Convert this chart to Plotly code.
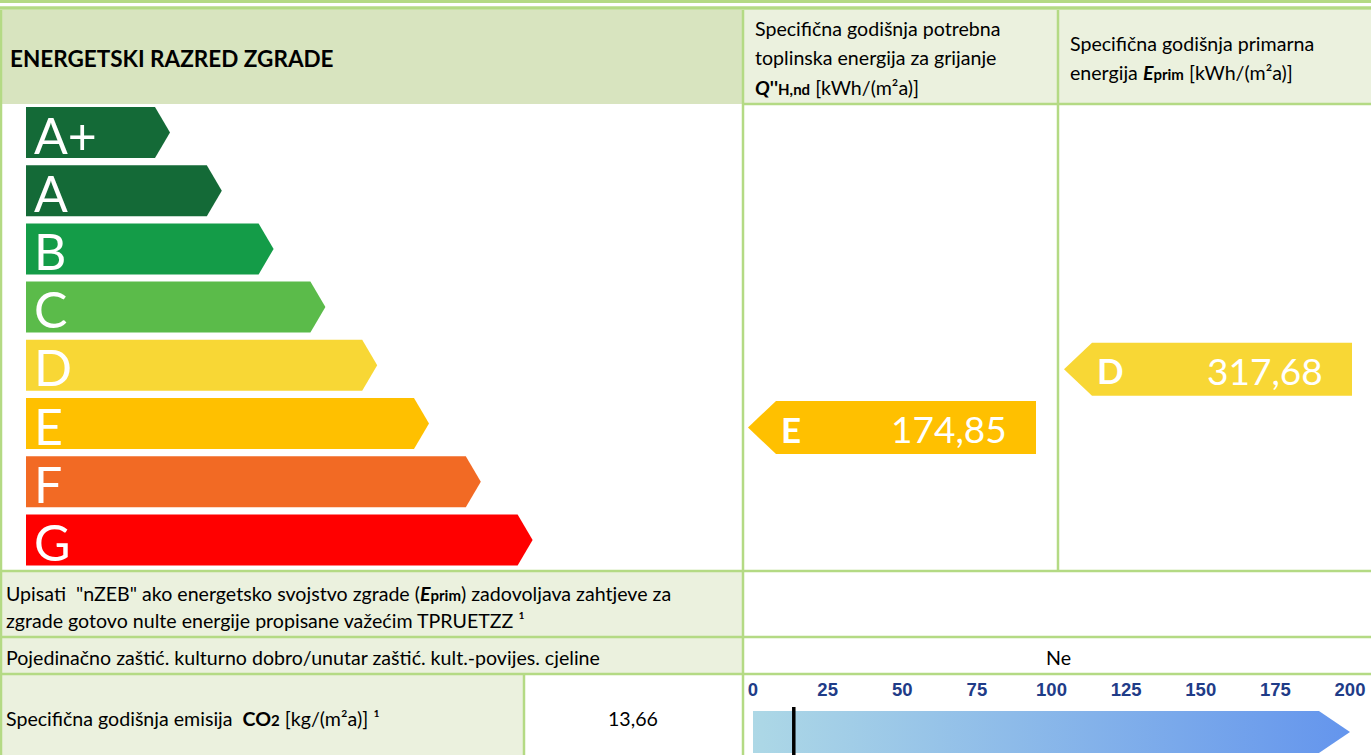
import plotly.graph_objects as go

# ---------------- data ----------------
classes = ["A+", "A", "B", "C", "D", "E", "F", "G"]
class_colors = ["#146A37", "#146A37", "#149C48", "#5BBB4A", "#F8D735", "#FFC000", "#F26A24", "#FF0000"]

heat_class = "E"
heat_value = 174.85
prim_class = "D"
prim_value = 317.68

co2_value = 13.66
co2_ticks = [0, 25, 50, 75, 100, 125, 150, 175, 200]
co2_range = [0, 200]

protected_answer = "Ne"
nzeb_answer = ""

# ---------------- style / layout constants ----------------
W, H = 1371, 755
BC = "#B4DA84"          # border green
HDR_DARK = "#D8E4BF"
HDR_LIGHT = "#EBF1DE"
FONT = "Lato, 'Open Sans', sans-serif"
TXT = 19.6

COL1, COL2 = 742, 1058
HDR_TOP, HDR_BOT = 10, 104
ROW1, ROW2, ROW3 = 571, 637, 674
CO2_SPLIT = 524
SCALE_H = 52

BAR_X0 = 26
BAR_W0 = 129
BAR_STEP = 51.8
BAR_TIP = 15
ROW_Y0 = 107
ROW_STEP = 58.2
BAR_H = 51

def fmt(v):
    return f"{v:.2f}".replace(".", ",")

fig = go.Figure()
shapes = []

def rect(x0, y0, x1, y1, color):
    shapes.append(dict(type="rect", xref="x", yref="y", x0=x0, y0=y0, x1=x1, y1=y1,
                       fillcolor=color, line=dict(width=0), layer="below"))

def hline(y, x0, x1, w=2.5):
    shapes.append(dict(type="line", xref="x", yref="y", x0=x0, x1=x1, y0=y, y1=y,
                       line=dict(color=BC, width=w), layer="above"))

def vline(x, y0, y1, w=2.5):
    shapes.append(dict(type="line", xref="x", yref="y", x0=x, x1=x, y0=y0, y1=y1,
                       line=dict(color=BC, width=w), layer="above"))

# backgrounds
rect(0, HDR_TOP, COL1, HDR_BOT, HDR_DARK)
rect(COL1, HDR_TOP, W, HDR_BOT, HDR_LIGHT)
rect(0, ROW1, COL1, ROW2, HDR_LIGHT)
rect(0, ROW2, COL1, ROW3, HDR_LIGHT)
rect(0, ROW3, CO2_SPLIT, H, HDR_LIGHT)

# borders
hline(1.5, 0, W, 3)
hline(8, 0, W, 3.5)
hline(HDR_BOT, COL1, W, 2.5)
hline(ROW1, 0, W)
hline(ROW2, 0, W)
hline(ROW3, 0, W)
vline(1, HDR_TOP, H, 2.5)
vline(COL1 + 1, HDR_TOP, H)
vline(COL2, HDR_TOP, ROW1)
vline(CO2_SPLIT, ROW3, H)

annotations = []

def text(x, y, s, size, xanchor="left", color="#000000", bold=False, font=FONT, weight=None):
    f = dict(family=font, size=size, color=color)
    if weight is not None:
        f["weight"] = weight
    annotations.append(dict(xref="x", yref="y", x=x, y=y, text=(f"<b>{s}</b>" if bold else s),
                            showarrow=False, xanchor=xanchor, yanchor="middle", font=f))

# ---------------- class ladder ----------------
for i, (c, col) in enumerate(zip(classes, class_colors)):
    top = ROW_Y0 + ROW_STEP * i
    w = BAR_W0 + BAR_STEP * i
    xs = [BAR_X0, BAR_X0 + w, BAR_X0 + w + BAR_TIP, BAR_X0 + w, BAR_X0, BAR_X0]
    ys = [top, top, top + BAR_H / 2, top + BAR_H, top + BAR_H, top]
    fig.add_trace(go.Scatter(x=xs, y=ys, fill="toself", fillcolor=col, mode="lines",
                             line=dict(width=0, color=col), hoverinfo="skip", showlegend=False))
    text(BAR_X0 + 6, top + BAR_H / 2 + 2, c, 50, color="#FFFFFF", weight=400)

# ---------------- indicators ----------------
def indicator(col_left, cls, value):
    i = classes.index(cls)
    col = class_colors[i]
    top = ROW_Y0 + ROW_STEP * i + 3
    h = 53
    tip = col_left + 6
    start = col_left + 34
    end = col_left + 294
    xs = [tip, start, end, end, start, tip]
    ys = [top + h / 2, top, top, top + h, top + h, top + h / 2]
    fig.add_trace(go.Scatter(x=xs, y=ys, fill="toself", fillcolor=col, mode="lines",
                             line=dict(width=0, color=col), hoverinfo="skip", showlegend=False))
    text(start + 3, top + h / 2 + 1, cls, 35, color="#FFFFFF", bold=True)
    text(end - 27, top + h / 2 + 1, fmt(value), 37, xanchor="right", color="#FFFFFF")

indicator(COL1, heat_class, heat_value)
indicator(COL2, prim_class, prim_value)

# ---------------- header texts ----------------
SUB = "font-size:15px"
text(8, 58, "ENERGETSKI RAZRED ZGRADE", 22.5, bold=True)
text(753, 28, "Specifična godišnja potrebna", TXT)
text(753, 57, "toplinska energija za grijanje", TXT)
text(753, 87, f"<b><i>Q</i>''</b><b><span style='{SUB}'>H,nd</span></b> [kWh/(m²a)]", TXT)
text(1068, 43, "Specifična godišnja primarna", TXT)
text(1068, 72, f"energija <b><i>E</i></b><b><span style='{SUB}'>prim</span></b> [kWh/(m²a)]", TXT)

# ---------------- bottom rows ----------------
text(4, 593, f"Upisati  \"nZEB\" ako energetsko svojstvo zgrade (<b><i>E</i></b><b><span style='{SUB}'>prim</span></b>) zadovoljava zahtjeve za", TXT)
text(4, 620, "zgrade gotovo nulte energije propisane važećim TPRUETZZ ¹", TXT)
text(4, 657, "Pojedinačno zaštić. kulturno dobro/unutar zaštić. kult.-povijes. cjeline", TXT)
text((COL1 + W) / 2, 604, nzeb_answer, TXT, xanchor="center")
text(COL2, 657, protected_answer, TXT, xanchor="center")
text(4, 718, f"Specifična godišnja emisija  <b>CO<span style='{SUB}'>2</span></b> [kg/(m²a)] ¹", TXT)
text((CO2_SPLIT + COL1) / 2, 718, fmt(co2_value), TXT, xanchor="center")

# ---------------- CO2 scale (own axis) ----------------
arrow_body_end = co2_range[0] + 0.948 * (co2_range[1] - co2_range[0])
fig.add_trace(go.Scatter(
    x=[co2_range[0], arrow_body_end, co2_range[1], arrow_body_end, co2_range[0], co2_range[0]],
    y=[44, 44, 23, 2, 2, 44], fill="toself", mode="lines", line=dict(width=0),
    fillgradient=dict(type="horizontal", colorscale=[[0, "#ADD8E6"], [1, "#6495ED"]]),
    xaxis="x2", yaxis="y2", hoverinfo="skip", showlegend=False))
fig.add_trace(go.Scatter(x=[co2_value, co2_value], y=[0, 48], mode="lines",
                         line=dict(color="#000000", width=3.5), xaxis="x2", yaxis="y2",
                         hoverinfo="skip", showlegend=False))

fig.update_layout(
    width=W, height=H, margin=dict(l=0, r=0, t=0, b=0, autoexpand=False),
    paper_bgcolor="#FFFFFF", plot_bgcolor="#FFFFFF",
    xaxis=dict(range=[0, W], visible=False, domain=[0, 1], fixedrange=True, automargin=False),
    yaxis=dict(range=[H, 0], visible=False, domain=[0, 1], fixedrange=True, automargin=False),
    xaxis2=dict(range=co2_range, domain=[753 / W, 1350 / W], anchor="y2", side="top",
                tickvals=co2_ticks, ticktext=[str(t) for t in co2_ticks], showgrid=False,
                zeroline=False, showline=False, ticks="", ticklabelstandoff=2, automargin=False,
                tickfont=dict(family="Liberation Sans, Arial", size=18.5, color="#1F3C88", weight="bold"),
                fixedrange=True),
    yaxis2=dict(range=[0, SCALE_H], domain=[0, SCALE_H / H], anchor="x2", visible=False,
                fixedrange=True, automargin=False),
    shapes=shapes, annotations=annotations, showlegend=False,
)

fig.write_html("out.html", config={"displayModeBar": False},
               post_script="document.body.style.margin='0';document.body.style.overflow='hidden';")
